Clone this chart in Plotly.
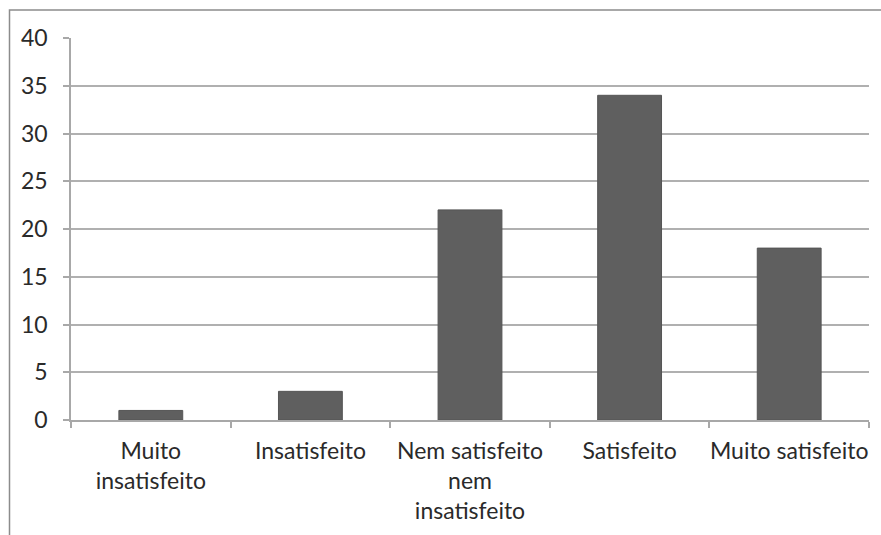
import plotly.graph_objects as go

# Satisfaction survey responses
categories = ["Muito<br>insatisfeito", "Insatisfeito", "Nem satisfeito<br>nem<br>insatisfeito",
              "Satisfeito", "Muito satisfeito"]
counts = [1, 3, 22, 34, 18]
y_ticks = [0, 5, 10, 15, 20, 25, 30, 35, 40]

W, H = 881, 535
L, R, T, B = 71, 12, 38, 115
plot_w = W - L - R
plot_h = H - T - B


def px_to_paper_x(px):
    return (px - L) / plot_w


def px_to_paper_y(py):
    return (H - B - py) / plot_h


fig = go.Figure(
    go.Bar(
        x=categories,
        y=counts,
        marker=dict(color="#5f5f5f", line=dict(color="#555555", width=1)),
        width=0.4,
    )
)

font = dict(family="Lato, Carlito, Calibri, sans-serif", size=23, color="#2a2a2a")

fig.update_layout(
    width=W,
    height=H,
    margin=dict(l=L, r=R, t=T, b=B),
    paper_bgcolor="white",
    plot_bgcolor="white",
    showlegend=False,
    font=font,
    shapes=[
        # outer chart frame
        dict(
            type="rect",
            xref="paper",
            yref="paper",
            x0=px_to_paper_x(9.5),
            x1=px_to_paper_x(W + 20),
            y0=px_to_paper_y(H + 20),
            y1=px_to_paper_y(10),
            line=dict(color="#8c8c8c", width=1.5),
            fillcolor="rgba(0,0,0,0)",
            layer="below",
        )
    ],
)

fig.update_xaxes(
    type="category",
    range=[-0.5, len(categories) - 0.5],
    tickson="boundaries",
    ticks="outside",
    ticklen=6,
    tickcolor="#a8a8a8",
    tickwidth=1.5,
    showline=True,
    linecolor="#a8a8a8",
    linewidth=1.5,
    showgrid=False,
    tickfont=font,
    tickangle=0,
    ticklabelstandoff=10,
)

fig.update_yaxes(
    range=[0, 40],
    tickvals=y_ticks,
    ticks="outside",
    ticklen=6,
    tickcolor="#a8a8a8",
    tickwidth=1.5,
    showline=True,
    linecolor="#a8a8a8",
    linewidth=1.5,
    showgrid=True,
    gridcolor="#b0b0b0",
    gridwidth=1.5,
    zeroline=False,
    tickfont=font,
    ticklabelstandoff=11,
)

fig.write_html("out.html")
